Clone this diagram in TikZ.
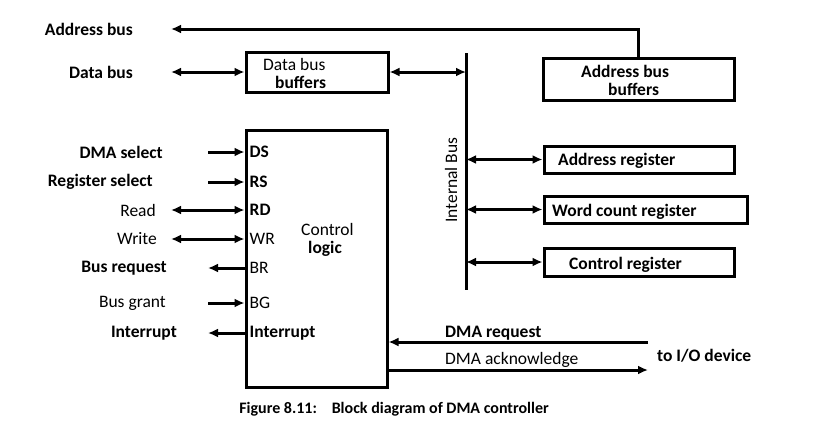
\documentclass[tikz,border=0pt]{standalone}
\usepackage{fontspec}
\setmainfont{Carlito}
\usetikzlibrary{arrows.meta,positioning}
\newcommand{\sigfont}{\fontsize{17.5}{18}\selectfont}
\newcommand{\capfont}{\fontsize{16}{18}\selectfont}
\tikzset{
  blk/.style={draw, line width=3pt, inner sep=0pt},
  sig/.style={line width=3pt, -{Latex[length=10pt,width=9pt]}},
  bisig/.style={line width=3pt, {Latex[length=10pt,width=9pt]}-{Latex[length=10pt,width=9pt]}},
  buslbl/.style={font=\sigfont\bfseries, anchor=east, inner sep=0pt},
  pinlbl/.style={font=\sigfont, anchor=west, inner sep=0pt, xshift=5pt},
  boxtext/.style={font=\sigfont, align=left, inner sep=0pt}
}
\begin{document}
\begin{tikzpicture}[x=1pt, y=-1pt]
  \useasboundingbox (0,0) rectangle (822,431);
  % reference columns for the free ends
  \coordinate (lx) at (208,0);
  \coordinate (rx) at (171,0);
  % blocks
  \node[blk, minimum width=142pt, minimum height=40pt] (dbb) at (317,72) {};
  \node[boxtext, anchor=north west] at (263,58) {Data bus\\\hspace{12pt}\textbf{buffers}};
  \node[blk, minimum width=191pt, minimum height=42pt] (abb) at (638.5,79) {};
  \node[boxtext, font=\sigfont\bfseries, anchor=north west] at (581,65) {Address bus\\\hspace{27pt}buffers};
  \node[blk, minimum width=141pt, minimum height=257pt] (ctl) at (316.5,258.5) {};
  \node[boxtext, anchor=north west] at (301,223) {Control\\\hspace{7pt}\textbf{logic}};
  % internal bus
  \coordinate (bustop) at (466,53);
  \coordinate (busbot) at (466,290);
  \draw[line width=3pt] (bustop) -- (busbot);
  \node[font=\sigfont, rotate=90] at (451,180) {Internal Bus};
  % registers
  \node[blk, minimum width=190pt, minimum height=27pt] (areg) at (639,159.5) {};
  \node[boxtext, font=\sigfont\bfseries, anchor=west] at (558,161) {Address register};
  \node[blk, minimum width=203pt, minimum height=27pt] (wreg) at (645.5,209.5) {};
  \node[boxtext, font=\sigfont\bfseries, anchor=west] at (552,211.5) {Word count register};
  \node[blk, minimum width=190pt, minimum height=28pt] (creg) at (639,262) {};
  \node[boxtext, font=\sigfont\bfseries, anchor=west] at (569,264.5) {Control register};
  \draw[bisig] (areg.west -| bustop) -- (areg.west);
  \draw[bisig] (wreg.west -| bustop) -- (wreg.west);
  \draw[bisig] (creg.west -| bustop) -- (creg.west);
  \draw[bisig] (dbb.east) -- (dbb.east -| bustop);
  % system buses
  \node[buslbl] (abus) at (133,29) {Address bus};
  \node[buslbl] (dbus) at (133,72) {Data bus};
  \draw[sig] (abb.north) |- (rx |- abus);
  \draw[bisig] (rx |- dbus) -- (dbb.west);
  % control signals
  \node[buslbl] (dmasel) at (163,152) {DMA select};
  \node[buslbl] (regsel) at (153,182) {Register select};
  \node[buslbl, font=\sigfont] (rd) at (156,210) {Read};
  \node[buslbl, font=\sigfont] (wr) at (157,239) {Write};
  \node[buslbl] (breq) at (167,268) {Bus request};
  \node[buslbl, font=\sigfont] (bgr) at (166,303) {Bus grant};
  \node[buslbl] (intr) at (177,333) {Interrupt};
  \node[pinlbl, font=\sigfont\bfseries] (ds) at (ctl.west |- dmasel) {DS};
  \node[pinlbl, font=\sigfont\bfseries] (rs) at (ctl.west |- regsel) {RS};
  \node[pinlbl, font=\sigfont\bfseries] (rdp) at (ctl.west |- rd) {RD};
  \node[pinlbl] (wrp) at (ctl.west |- wr) {WR};
  \node[pinlbl] (brp) at (ctl.west |- breq) {BR};
  \node[pinlbl] (bgp) at (ctl.west |- bgr) {BG};
  \node[pinlbl, font=\sigfont\bfseries] (intp) at (ctl.west |- intr) {Interrupt};
  \draw[sig] (lx |- dmasel) -- (ctl.west |- dmasel);
  \draw[sig] (lx |- regsel) -- (ctl.west |- regsel);
  \draw[bisig] (rx |- rd) -- (ctl.west |- rd);
  \draw[bisig] (rx |- wr) -- (ctl.west |- wr);
  \draw[sig] (ctl.west |- breq) -- (lx |- breq);
  \draw[sig] (lx |- bgr) -- (ctl.west |- bgr);
  \draw[sig] (ctl.west |- intr) -- (lx |- intr);
  % I/O device side
  \coordinate (ioreq) at (648,342);
  \coordinate (ioack) at (648,370);
  \draw[sig] (ioreq) -- (ioreq -| ctl.east);
  \draw[sig] (ioack -| ctl.east) -- (ioack);
  \node[font=\sigfont\bfseries, anchor=south west, inner sep=0pt] (dreq) at (445,340) {DMA request};
  \node[font=\sigfont, anchor=south west, inner sep=0pt] (dack) at (445,368) {DMA acknowledge};
  \node[font=\sigfont\bfseries, anchor=west, inner sep=0pt] (iodev) at (657,356) {to I/O device};
  % caption
  \node[font=\capfont\bfseries] (cap) at (394,409) {Figure 8.11:\hspace{10pt} Block diagram of DMA controller};
\end{tikzpicture}
\end{document}
